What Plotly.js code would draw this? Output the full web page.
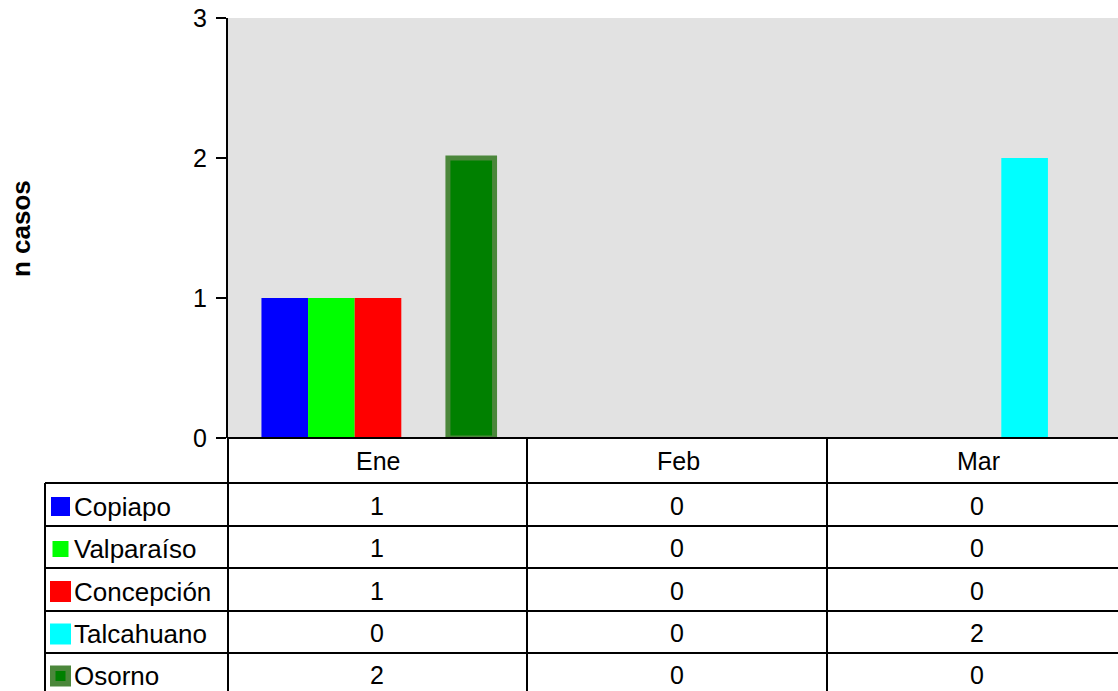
<!DOCTYPE html>
<html>
<head>
<meta charset="utf-8">
<script src="https://cdn.plot.ly/plotly-3.0.1.min.js"></script>
<style>html,body{margin:0;padding:0;background:#fff;}#chart{width:1118px;height:691px;}</style>
</head>
<body>
<div id="chart"></div>
<script>
const categories = ['Ene', 'Feb', 'Mar'];
const seriesNames = ['Copiapo', 'Valparaíso', 'Concepción', 'Talcahuano', 'Osorno'];
const copiapo = [1, 0, 0];
const valparaiso = [1, 0, 0];
const concepcion = [1, 0, 0];
const talcahuano = [0, 0, 2];
const osorno = [2, 0, 0];
const yTicks = [0, 1, 2, 3];
const yTitle = 'n casos';

const seriesValues = [copiapo, valparaiso, concepcion, talcahuano, osorno];
const fills = ['#0000ff', '#00ff00', '#ff0000', '#00ffff', '#008000'];
const borders = [null, null, null, null, '#4b873b'];
const keySizes = [19, 16, 21, 21, 21];

const W = 1118, H = 691;
const px = x => x / W;
const py = y => 1 - y / H;
const FONT = 'Liberation Sans, Arial, sans-serif';
const FS = 25;

const traces = seriesNames.map((name, i) => ({
  type: 'bar',
  name: name,
  x: categories,
  y: seriesValues[i],
  marker: {
    color: fills[i],
    line: borders[i]
      ? {color: borders[i], width: seriesValues[i].map(v => v > 0 ? 5 : 0)}
      : {width: 0}
  },
  hoverinfo: 'skip'
}));

const plotL = 228, plotT = 18, plotB = 438;
const colW = 300;
const legL = 45;
const rowLines = [483, 526, 568, 611, 653, 695];
const colLines = [228, 527, 827];

const shapes = [];
const lineStyle = {color: '#000', width: 2};
rowLines.slice(0, 5).forEach(y => {
  shapes.push({type: 'line', xref: 'paper', yref: 'paper', x0: px(legL), x1: px(W), y0: py(y), y1: py(y), line: lineStyle});
});
shapes.push({type: 'line', xref: 'paper', yref: 'paper', x0: px(plotL), x1: px(W), y0: py(plotB), y1: py(plotB), line: lineStyle});
colLines.forEach(x => {
  shapes.push({type: 'line', xref: 'paper', yref: 'paper', x0: px(x), x1: px(x), y0: py(plotB), y1: py(H), line: lineStyle});
});
shapes.push({type: 'line', xref: 'paper', yref: 'paper', x0: px(legL), x1: px(legL), y0: py(rowLines[0]), y1: py(H), line: lineStyle});

const annotations = [];
categories.forEach((c, j) => {
  annotations.push({xref: 'paper', yref: 'paper', x: px(plotL + colW * j + colW / 2), y: py((plotB + rowLines[0]) / 2),
    text: c, showarrow: false, xanchor: 'center', yanchor: 'middle', font: {family: FONT, size: FS, color: '#000'}});
});
seriesNames.forEach((name, i) => {
  const yc = (rowLines[i] + rowLines[i + 1]) / 2 + 2;
  const s = keySizes[i];
  const kc = 60.5;
  if (borders[i]) {
    shapes.push({type: 'rect', xref: 'paper', yref: 'paper', x0: px(kc - s / 2), x1: px(kc + s / 2), y0: py(yc - s / 2), y1: py(yc + s / 2),
      fillcolor: borders[i], line: {width: 0}});
    shapes.push({type: 'rect', xref: 'paper', yref: 'paper', x0: px(kc - 5), x1: px(kc + 5), y0: py(yc - 5), y1: py(yc + 5),
      fillcolor: fills[i], line: {width: 0}});
  } else {
    shapes.push({type: 'rect', xref: 'paper', yref: 'paper', x0: px(kc - s / 2), x1: px(kc + s / 2), y0: py(yc - s / 2), y1: py(yc + s / 2),
      fillcolor: fills[i], line: {width: 0}});
  }
  annotations.push({xref: 'paper', yref: 'paper', x: px(72), y: py(yc), text: name, showarrow: false,
    xanchor: 'left', yanchor: 'middle', font: {family: FONT, size: FS + 1, color: '#000'}});
  seriesValues[i].forEach((v, j) => {
    annotations.push({xref: 'paper', yref: 'paper', x: px(plotL + colW * j + colW / 2 - 1), y: py(yc - 1), text: String(v),
      showarrow: false, xanchor: 'center', yanchor: 'middle', font: {family: FONT, size: FS, color: '#000'}});
  });
});
annotations.push({xref: 'paper', yref: 'paper', x: px(21), y: py(229), text: '<b>' + yTitle + '</b>', textangle: -90,
  showarrow: false, xanchor: 'center', yanchor: 'middle', font: {family: FONT, size: FS + 1, color: '#000'}});

const nCats = (W - plotL) / colW;

const layout = {
  width: W, height: H,
  margin: {l: 0, r: 0, t: 0, b: 0, pad: 0},
  paper_bgcolor: '#ffffff',
  plot_bgcolor: '#e2e2e2',
  showlegend: false,
  barmode: 'group',
  bargap: 0.223,
  bargroupgap: 0,
  font: {family: FONT, size: FS, color: '#000'},
  xaxis: {
    domain: [px(plotL), 1],
    range: [-0.5, -0.5 + nCats],
    showticklabels: false,
    ticks: '',
    showgrid: false,
    zeroline: false,
    showline: false,
    fixedrange: true
  },
  yaxis: {
    domain: [py(plotB), py(plotT)],
    range: [0, 3],
    tickvals: yTicks,
    ticktext: yTicks.map(String),
    ticks: 'outside',
    ticklen: 10,
    tickwidth: 2,
    tickcolor: '#000',
    showline: true,
    linecolor: '#000',
    linewidth: 2,
    showgrid: false,
    zeroline: false,
    ticklabelstandoff: 4,
    tickfont: {family: FONT, size: FS, color: '#000'},
    fixedrange: true
  },
  shapes: shapes,
  annotations: annotations
};

Plotly.newPlot('chart', traces, layout, {displayModeBar: false, staticPlot: true});
</script>
</body>
</html>
